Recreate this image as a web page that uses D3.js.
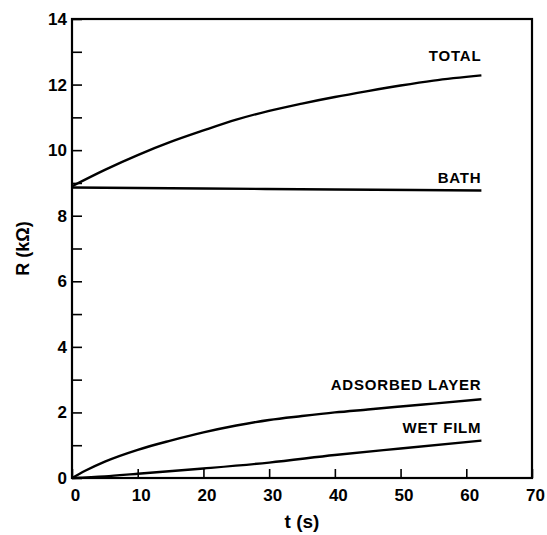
<!DOCTYPE html>
<html>
<head>
<meta charset="utf-8">
<script src="https://cdn.jsdelivr.net/npm/d3@7"></script>
<style>
  body { margin: 0; background: #fff; }
  text { font-family: "Liberation Sans", Arial, sans-serif; fill: #000; }
</style>
</head>
<body>
<div id="chart"></div>
<script>
// Data
const totalT = [0, 5, 10, 15, 20, 25, 30, 35, 40, 45, 50, 55, 62.3];
const totalR = [8.9, 9.4, 9.85, 10.25, 10.6, 10.93, 11.2, 11.42, 11.62, 11.8, 11.97, 12.12, 12.28];

const bathT = [0, 20, 40, 62.3];
const bathR = [8.86, 8.83, 8.8, 8.77];

const adsT = [0, 2, 5, 10, 15, 20, 25, 30, 35, 40, 45, 50, 55, 62.3];
const adsR = [0, 0.22, 0.5, 0.86, 1.14, 1.39, 1.6, 1.77, 1.89, 2.0, 2.09, 2.18, 2.27, 2.4];

const wetT = [0, 5, 10, 20, 30, 40, 50, 62.3];
const wetR = [0, 0.05, 0.13, 0.29, 0.47, 0.7, 0.9, 1.14];

const xTicks = [0, 10, 20, 30, 40, 50, 60, 70];
const yTicks = [0, 2, 4, 6, 8, 10, 12, 14];
const yMinor = [1, 3, 5, 7, 9, 11, 13];

const series = [
    { name: 'TOTAL', t: totalT, r: totalR, labelDy: -14 },
    { name: 'BATH', t: bathT, r: bathR, labelDy: -7 },
    { name: 'ADSORBED LAYER', t: adsT, r: adsR, labelDy: -9 },
    { name: 'WET FILM', t: wetT, r: wetR, labelDy: -8 }
];

const width = 547;
const height = 535;
const margin = { top: 19, right: 15, bottom: 57, left: 72 };

const svg = d3.select('#chart')
    .append('svg')
    .attr('width', width)
    .attr('height', height);

const x = d3.scaleLinear()
    .domain([0, 70])
    .range([margin.left, width - margin.right]);

const y = d3.scaleLinear()
    .domain([0, 14])
    .range([height - margin.bottom, margin.top]);

// Frame
svg.append('rect')
    .attr('x', x(0))
    .attr('y', y(14))
    .attr('width', x(70) - x(0))
    .attr('height', y(0) - y(14))
    .attr('fill', 'none')
    .attr('stroke', '#000')
    .attr('stroke-width', 2.2);

// Axes with inward ticks
const xAxis = svg.append('g')
    .attr('transform', `translate(0,${y(0)})`)
    .call(d3.axisBottom(x).tickValues(xTicks).tickSize(-9).tickPadding(11).tickFormat(d3.format('d')));

const yAxis = svg.append('g')
    .attr('transform', `translate(${x(0)},0)`)
    .call(d3.axisLeft(y).tickValues(yTicks).tickSize(-10).tickPadding(5).tickFormat(d3.format('d')));

svg.append('g')
    .attr('transform', `translate(${x(0)},0)`)
    .call(d3.axisLeft(y).tickValues(yMinor).tickSize(-10).tickFormat(''));

svg.selectAll('.domain').remove();
svg.selectAll('.tick line').attr('stroke', '#000').attr('stroke-width', 1.6);
xAxis.selectAll('text').attr('font-size', 17).attr('font-weight', 'bold').attr('dx', 3);
yAxis.selectAll('text').attr('font-size', 17).attr('font-weight', 'bold');

// Curves
const line = d3.line()
    .x(d => x(d[0]))
    .y(d => y(d[1]))
    .curve(d3.curveMonotoneX);

series.forEach(s => {
    const pts = s.t.map((t, i) => [t, s.r[i]]);
    svg.append('path')
        .datum(pts)
        .attr('d', line)
        .attr('fill', 'none')
        .attr('stroke', '#000')
        .attr('stroke-width', 2.4);

    const last = pts[pts.length - 1];
    svg.append('text')
        .attr('x', x(last[0]))
        .attr('y', y(last[1]) + s.labelDy)
        .attr('text-anchor', 'end')
        .attr('font-size', 15)
        .attr('font-weight', 'bold')
        .attr('letter-spacing', 0.8)
        .text(s.name);
});

// Axis titles
svg.append('text')
    .attr('x', (x(0) + x(70)) / 2)
    .attr('y', 528)
    .attr('text-anchor', 'middle')
    .attr('font-size', 19)
    .attr('font-weight', 'bold')
    .text('t (s)');

svg.append('text')
    .attr('transform', `translate(29,${(y(0) + y(14)) / 2}) rotate(-90)`)
    .attr('text-anchor', 'middle')
    .attr('font-size', 18)
    .attr('font-weight', 'bold')
    .text('R (kΩ)');
</script>
</body>
</html>
